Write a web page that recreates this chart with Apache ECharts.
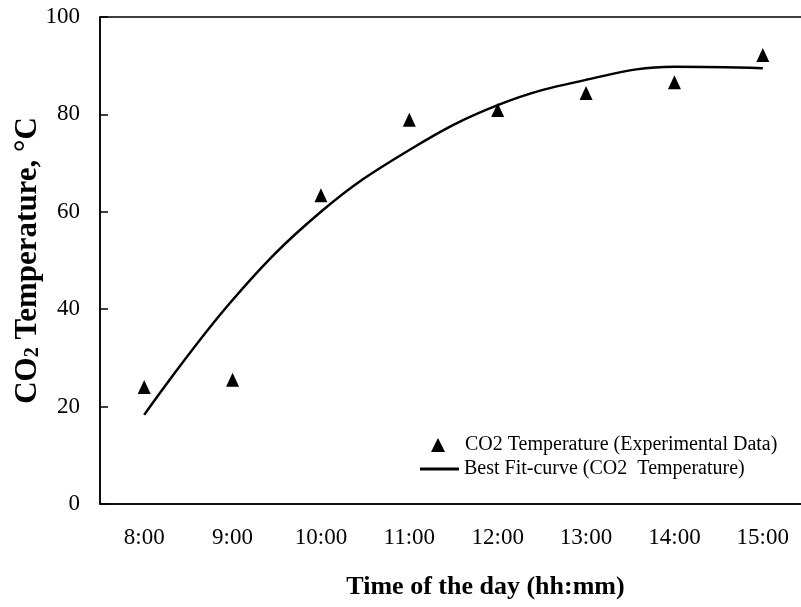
<!DOCTYPE html>
<html>
<head>
<meta charset="utf-8">
<script src="https://cdn.jsdelivr.net/npm/echarts@6/dist/echarts.min.js"></script>
<style>
  html, body { margin: 0; padding: 0; background: #fff; }
  #chart { width: 801px; height: 607px; }
</style>
</head>
<body>
<div id="chart"></div>
<script>
/* time of day and measured / fitted CO2 temperature */
var hours = ['8:00', '9:00', '10:00', '11:00', '12:00', '13:00', '14:00', '15:00'];
var measured = [24.0, 25.5, 63.4, 78.9, 80.9, 84.4, 86.6, 92.2];
var fitCurve = [18.3, 41.9, 60.0, 72.7, 81.9, 87.1, 89.8, 89.5];
var yTicks = { min: 0, max: 100, step: 20 };

var serif = 'Liberation Serif';
var chart = echarts.init(document.getElementById('chart'));

var option = {
    animation: false,
    backgroundColor: '#fff',
    textStyle: { fontFamily: serif, color: '#000' },
    grid: {
        left: 100,
        top: 17,
        width: 707,
        bottom: 103,
        outerBoundsMode: 'none',
        containLabel: false,
        show: true,
        borderColor: '#000',
        borderWidth: 1.5
    },
    legend: [
        {
            left: 426,
            top: 430,
            itemWidth: 14,
            itemHeight: 14,
            icon: 'triangle',
            textStyle: { fontFamily: serif, fontSize: 20, color: '#000', padding: [0, 0, 0, 15] },
            data: ['CO2 Temperature (Experimental Data)']
        },
        {
            left: 415,
            top: 454,
            itemWidth: 39,
            itemHeight: 3,
            icon: 'rect',
            textStyle: { fontFamily: serif, fontSize: 20, color: '#000' },
            data: ['Best Fit-curve (CO2  Temperature)']
        }
    ],
    xAxis: {
        type: 'category',
        data: hours,
        boundaryGap: true,
        name: 'Time of the day (hh:mm)',
        nameLocation: 'middle',
        nameGap: 70,
        nameMoveOverlap: false,
        nameTextStyle: { fontFamily: serif, fontSize: 26, fontWeight: 'bold', color: '#000', padding: [0, 0, 0, 64] },
        axisLine: { lineStyle: { color: '#000', width: 1.5 } },
        axisTick: { inside: true, length: 9, lineStyle: { color: '#000', width: 1.5 } },
        axisLabel: { fontFamily: serif, fontSize: 23, color: '#000', margin: 22 },
        splitLine: { show: false }
    },
    yAxis: {
        type: 'value',
        min: yTicks.min,
        max: yTicks.max,
        interval: yTicks.step,
        name: '{a|CO}{b|2}{a| Temperature, °C}',
        nameLocation: 'middle',
        nameRotate: 90,
        nameGap: 57,
        nameMoveOverlap: false,
        nameTextStyle: {
            rich: {
                a: { fontFamily: serif, fontSize: 31, fontWeight: 'bold', color: '#000' },
                b: { fontFamily: serif, fontSize: 20, fontWeight: 'bold', color: '#000', verticalAlign: 'bottom', padding: [11, 0, 0, 0] }
            }
        },
        axisLine: { show: true, lineStyle: { color: '#000', width: 1.5 } },
        axisTick: { show: true, inside: true, length: 8, lineStyle: { color: '#000', width: 1.5 } },
        axisLabel: { fontFamily: serif, fontSize: 23, color: '#000', margin: 20 },
        splitLine: { show: false }
    },
    series: [
        {
            name: 'CO2 Temperature (Experimental Data)',
            type: 'scatter',
            symbol: 'triangle',
            symbolSize: [13, 14],
            itemStyle: { color: '#000', opacity: 1 },
            data: measured,
            z: 3
        },
        {
            name: 'Best Fit-curve (CO2  Temperature)',
            type: 'line',
            smooth: 0.4,
            symbol: 'none',
            lineStyle: { color: '#000', width: 2.5 },
            itemStyle: { color: '#000' },
            data: fitCurve,
            z: 2
        }
    ]
};

chart.setOption(option);
</script>
</body>
</html>
